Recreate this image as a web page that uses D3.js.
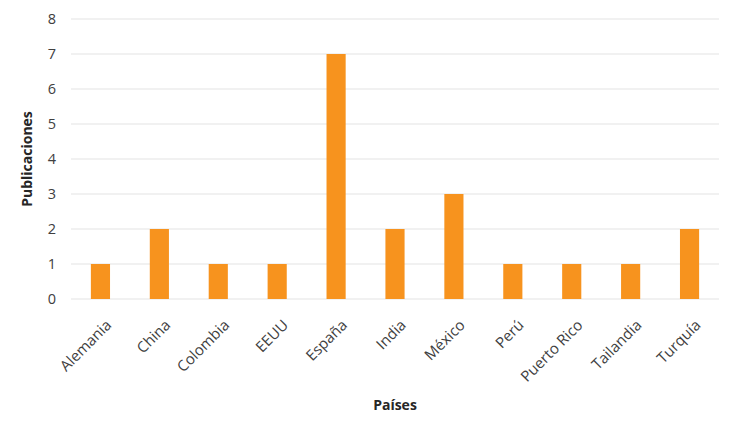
<!DOCTYPE html>
<html>
<head>
<meta charset="UTF-8">
<script src="https://cdnjs.cloudflare.com/ajax/libs/d3/7.8.5/d3.min.js"></script>
<style>
  body { margin: 0; background: #fff; }
  text { font-family: "Open Sans", sans-serif; fill: #404040; }
  .axis-title { font-weight: bold; font-size: 14px; fill: #262626; }
</style>
</head>
<body>
<div id="chart"></div>
<script>
const paises = ["Alemania", "China", "Colombia", "EEUU", "España", "India", "México", "Perú", "Puerto Rico", "Tailandia", "Turquía"];
const publicaciones = [1, 2, 1, 1, 7, 2, 3, 1, 1, 1, 2];
const yTicks = [0, 1, 2, 3, 4, 5, 6, 7, 8];

const width = 732, height = 423;
const margin = {top: 19, right: 13, bottom: 124, left: 71};
const innerW = width - margin.left - margin.right;
const innerH = height - margin.top - margin.bottom;

const data = paises.map((p, i) => ({pais: p, valor: publicaciones[i]}));

const svg = d3.select("#chart").append("svg")
  .attr("width", width).attr("height", height);
const g = svg.append("g").attr("transform", `translate(${margin.left},${margin.top})`);

const x = d3.scaleBand().domain(paises).range([0, innerW]).padding(0);
const y = d3.scaleLinear().domain([0, 8]).range([innerH, 0]);
const barW = x.bandwidth() * 0.325;

// gridlines
g.selectAll(".grid").data(yTicks).enter().append("line")
  .attr("x1", 0).attr("x2", innerW)
  .attr("y1", d => y(d)).attr("y2", d => y(d))
  .attr("stroke", "#e3e3e3").attr("stroke-width", 1.2);

// bars
g.selectAll(".bar").data(data).enter().append("rect")
  .attr("x", d => x(d.pais) + x.bandwidth() / 2 - barW / 2)
  .attr("y", d => y(d.valor))
  .attr("width", barW)
  .attr("height", d => innerH - y(d.valor))
  .attr("fill", "#f7931e");

// y axis labels
const yAxis = g.append("g").call(d3.axisLeft(y).tickValues(yTicks).tickSize(0).tickPadding(15));
yAxis.select(".domain").remove();
yAxis.selectAll("text").style("font-size", "14.5px").style("font-family", "'Open Sans', sans-serif").attr("fill", "#404040");

// x axis labels
g.selectAll(".xlab").data(paises).enter().append("text")
  .attr("transform", d => `translate(${x(d) + x.bandwidth() / 2 + 12},${innerH + 27}) rotate(-45)`)
  .attr("text-anchor", "end")
  .style("font-size", "15px")
  .text(d => d);

// axis titles
svg.append("text").attr("class", "axis-title")
  .attr("text-anchor", "middle")
  .attr("transform", `translate(32,${margin.top + innerH / 2}) rotate(-90)`)
  .text("Publicaciones");
svg.append("text").attr("class", "axis-title")
  .attr("text-anchor", "middle")
  .attr("x", margin.left + innerW / 2).attr("y", 410)
  .text("Países");
</script>
</body>
</html>
